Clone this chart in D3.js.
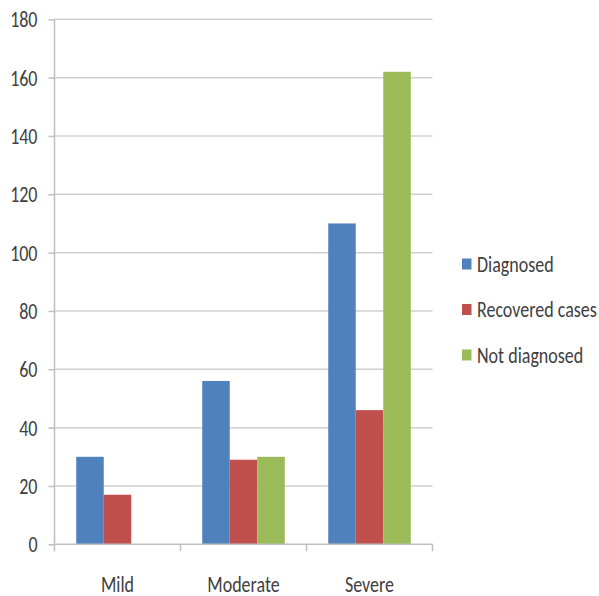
<!DOCTYPE html>
<html>
<head>
<meta charset="utf-8">
<script src="https://cdn.jsdelivr.net/npm/d3@7"></script>
<style>
  html, body { margin: 0; padding: 0; background: #fff; }
  svg text { fill: #404040; }
</style>
</head>
<body>
<svg id="chart" width="599" height="596"></svg>
<script>
// Cases by severity
const categories = ["Mild", "Moderate", "Severe"];
const seriesNames = ["Diagnosed", "Recovered cases", "Not diagnosed"];
const diagnosed = [30, 56, 110];
const recovered = [17, 29, 46];
const notDiagnosed = [0, 30, 162];
const yTicks = [0, 20, 40, 60, 80, 100, 120, 140, 160, 180];
const colors = ["#4F81BD", "#C0504D", "#9BBB59"];

const seriesValues = [diagnosed, recovered, notDiagnosed];
const rows = categories.map((c, i) => ({
  category: c,
  values: seriesNames.map((s, j) => ({ series: s, value: seriesValues[j][i], color: colors[j] }))
}));

// Pick a Calibri-like face if one is installed, else condense Liberation Sans
function hasFont(name) {
  const ctx = document.createElement("canvas").getContext("2d");
  const probe = "Moderate Recovered 0123456789";
  ctx.font = "40px monospace";
  const a = ctx.measureText(probe).width;
  ctx.font = `40px "${name}", monospace`;
  const b = ctx.measureText(probe).width;
  return Math.abs(a - b) > 0.5;
}
const calibriLike = hasFont("Carlito");
const FONT = calibriLike ? "Carlito, 'Liberation Sans', sans-serif" : "'Liberation Sans', Arial, sans-serif";
const FS = calibriLike ? 18 : 19;
const SX = calibriLike ? 1 : 0.82;
const SY = calibriLike ? 1.2 : 1;

const svg = d3.select("#chart");
const plot = { left: 54.5, right: 432.5, top: 19.3, bottom: 544.3 };

const x0 = d3.scaleBand().domain(categories).range([plot.left, plot.right]).paddingInner(0).paddingOuter(0);
const x1 = d3.scaleBand().domain(seriesNames).range([0, x0.bandwidth()]).paddingInner(0).paddingOuter(0.79);
const y = d3.scaleLinear().domain([0, 180]).range([plot.bottom, plot.top]);

// Horizontal gridlines
svg.append("g")
  .selectAll("line")
  .data(yTicks.filter(t => t > 0))
  .join("line")
  .attr("x1", plot.left).attr("x2", plot.right)
  .attr("y1", d => y(d)).attr("y2", d => y(d))
  .attr("stroke", "#d0d0d0").attr("stroke-width", 1.5);

// Bars
const groups = svg.append("g")
  .selectAll("g")
  .data(rows)
  .join("g")
  .attr("transform", d => `translate(${x0(d.category)},0)`);

groups.selectAll("rect")
  .data(d => d.values.filter(v => v.value > 0))
  .join("rect")
  .attr("x", d => x1(d.series))
  .attr("width", x1.bandwidth())
  .attr("y", d => y(d.value))
  .attr("height", d => y(0) - y(d.value))
  .attr("fill", d => d.color);

// Styled label placed at (x, y) in its parent, condensed/stretched as chosen above
function styleLabel(sel, x, yy, anchor) {
  sel.attr("x", null).attr("y", null).attr("dy", "0.35em")
    .attr("text-anchor", anchor)
    .attr("font-size", FS).attr("font-family", FONT).attr("fill", "#404040")
    .attr("transform", `translate(${x},${yy}) scale(${SX},${SY})`);
}

// Y axis
const yAxis = d3.axisLeft(y).tickValues(yTicks).tickSize(6).tickFormat(d3.format("d"));
const gy = svg.append("g").attr("transform", `translate(${plot.left},0)`).call(yAxis);
gy.select(".domain").attr("stroke", "#bfbfbf").attr("stroke-width", 1.5)
  .attr("d", `M0,${plot.top}V${plot.bottom}`);
gy.selectAll(".tick line").attr("stroke", "#bfbfbf").attr("stroke-width", 1.5);
gy.selectAll(".tick text").call(styleLabel, -17, 0, "end");

// X axis
const xAxis = d3.axisBottom(x0).tickSize(0);
const gx = svg.append("g").attr("transform", `translate(0,${plot.bottom})`).call(xAxis);
gx.select(".domain").attr("stroke", "#bfbfbf").attr("stroke-width", 1.5)
  .attr("d", `M${plot.left},0H${plot.right}`);
gx.selectAll(".tick text").call(styleLabel, 0, 40, "middle");
// Category separator ticks
gx.append("g")
  .selectAll("line")
  .data(categories.map(c => x0(c)).concat([plot.right]))
  .join("line")
  .attr("x1", d => d).attr("x2", d => d)
  .attr("y1", 0).attr("y2", 7)
  .attr("stroke", "#bfbfbf").attr("stroke-width", 1.5);

// Legend
const legend = svg.append("g").attr("transform", "translate(462,264)");
const items = legend.selectAll("g")
  .data(seriesNames.map((s, i) => ({ name: s, color: colors[i] })))
  .join("g")
  .attr("transform", (d, i) => `translate(0,${i * 45.5})`);
items.append("rect")
  .attr("x", 0).attr("y", -5.5).attr("width", 9.5).attr("height", 11)
  .attr("fill", d => d.color);
items.append("text")
  .text(d => d.name)
  .call(styleLabel, 15, 0, "start");
</script>
</body>
</html>
